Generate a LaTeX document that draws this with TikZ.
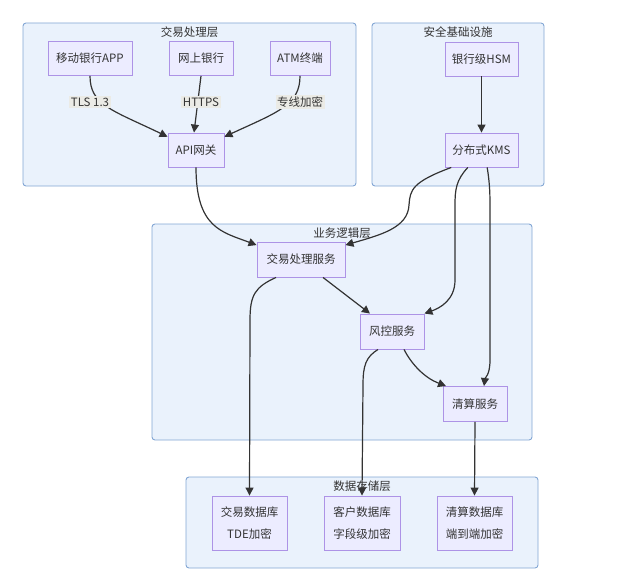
\documentclass[tikz,border=0pt]{standalone}
\usepackage{fontspec}
\setmainfont{Noto Sans CJK SC}
\usetikzlibrary{arrows.meta}
\definecolor{nodefill}{HTML}{ECECFF}
\definecolor{nodeline}{HTML}{AD93E6}
\definecolor{groupfill}{HTML}{EAF2FC}
\definecolor{groupline}{HTML}{82A6D4}
\definecolor{labelfill}{HTML}{EBEBE6}
\definecolor{ink}{HTML}{333333}

\begin{document}
\begin{tikzpicture}[x=1pt,y=-1pt,
        font=\fontsize{11.5}{22}\selectfont,
        group/.style={draw=groupline,fill=groupfill,line width=0.9pt,rounded corners=3pt},
        grouptitle/.style={text=ink,inner sep=0pt},
        box/.style={draw=nodeline,fill=nodefill,line width=0.9pt,text=ink,align=center,
            minimum height=34pt,inner sep=2pt},
        tag/.style={fill=labelfill,text=ink,inner sep=1.5pt},
        flow/.style={draw=ink,line width=1.2pt,-{Triangle[length=8pt,width=8pt]}}]
      \useasboundingbox (0,0) rectangle (617,586);

      \draw[group] (23,23) rectangle (356,186);
      \draw[group] (372,23) rectangle (544,186);
      \draw[group] (152,224) rectangle (532,440);
      \draw[group] (186,477) rectangle (538,568);

      \node[grouptitle] (fronttitle) at (189.5,32) {交易处理层};
      \node[grouptitle] (sectitle) at (458,32) {安全基础设施};
      \node[grouptitle] (biztitle) at (342,233) {业务逻辑层};
      \node[grouptitle] (datatitle) at (362,486) {数据存储层};

      \node[box,minimum width=84pt] (app) at (90,58.5) {移动银行APP};
      \node[box,minimum width=64pt] (web) at (201,58.5) {网上银行};
      \node[box,minimum width=60pt] (atm) at (300,58.5) {ATM终端};
      \node[box,minimum width=56pt] (api) at (196,150) {API网关};

      \node[box,minimum width=73pt] (hsm) at (481.5,59) {银行级HSM};
      \node[box,minimum width=73pt] (kms) at (481.5,150) {分布式KMS};

      \node[box,minimum width=88pt,minimum height=35pt] (txn) at (301,259.5) {交易处理服务};
      \node[box,minimum width=64pt,minimum height=35pt] (risk) at (392,331.5) {风控服务};
      \node[box,minimum width=64pt,minimum height=35pt] (clr) at (475,404) {清算服务};

      \node[box,minimum width=75pt,minimum height=54pt] (txndb) at (249.5,523) {交易数据库\\TDE加密};
      \node[box,minimum width=76pt,minimum height=54pt] (custdb) at (362,523) {客户数据库\\字段级加密};
      \node[box,minimum width=75pt,minimum height=54pt] (clrdb) at (474.5,523) {清算数据库\\端到端加密};

      \draw[flow] (app.south) .. controls (90,105) and (112,110) .. (api.155);
      \draw[flow] (web.south) -- ([xshift=-2pt]api.north);
      \draw[flow] (atm.south) .. controls (300,105) and (278,112) .. (api.25);
      \draw[flow] (api.south) .. controls (196,228) and (222,232) .. (txn.162);
      \draw[flow] (kms.-150) .. controls (412,182) and (410,190) .. (409,205)
        .. controls (408,228) and (380,235) .. (txn.18);
      \draw[flow] (kms.-128) .. controls (456,180) and (455,190) .. (455,205) -- (455,280)
        .. controls (455,300) and (440,308) .. (risk.north east);
      \draw[flow] (kms.-72) .. controls (490,185) and (490,195) .. (490,210) -- (490,360)
        .. controls (490,375) and (485,378) .. ([xshift=9pt]clr.north);
      \draw[flow] (hsm) -- (kms);
      \draw[flow] ([xshift=22pt]txn.south) -- ([xshift=-22pt]risk.north);
      \draw[flow] ([xshift=12pt]risk.south) .. controls (412,365) and (425,378) .. ([xshift=-29pt]clr.north);
      \draw[flow] ([xshift=-25pt]txn.south) .. controls (255,287) and (250,295) .. (250,320) -- (txndb.north);
      \draw[flow] ([xshift=-14pt]risk.south) .. controls (366,357) and (363,365) .. (363,385) -- (custdb.north);
      \draw[flow] (clr.south) -- (clrdb.north);

      \node[tag] (tls) at (90,102) {TLS 1.3};
      \node[tag] (https) at (201,102) {HTTPS};
      \node[tag] (line) at (300,102) {专线加密};
    \end{tikzpicture}
\end{document}
